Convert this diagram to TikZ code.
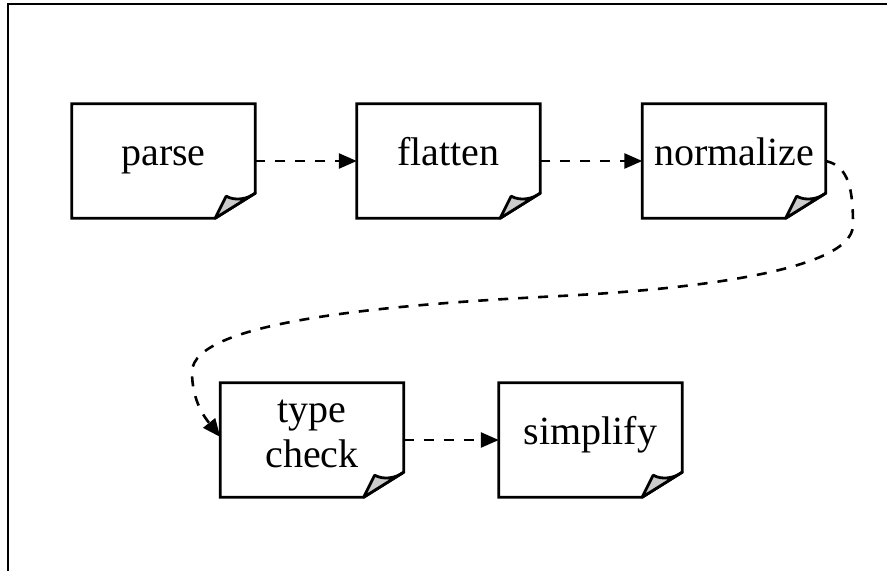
\documentclass[tikz,border=0pt]{standalone}
\usepackage{fontspec}
\setmainfont{Liberation Serif}
\usetikzlibrary{arrows.meta,calc}
\begin{document}
\begin{tikzpicture}[x=1pt,y=-1pt,
  doc/.style={minimum width=183pt, minimum height=114pt, inner sep=0pt, align=center,
    font=\fontsize{40}{45}\selectfont, text height=26pt, text depth=17pt},
  docline/.style={line width=2.8pt, line join=miter},
  flap/.style={fill=gray!40, line width=2.8pt, line join=round},
  conn/.style={line width=2.6pt, dash pattern=on 10pt off 10pt, -{Triangle[length=18pt,width=15pt]}}
]
\useasboundingbox (0,0) rectangle (887,571);
\draw[line width=2.5pt] (8,571) -- (8,4) -- (887,4);

\node[doc] (parse) at (163.5,161) {parse};
\node[doc] (flatten) at (448.5,161) {flatten};
\node[doc] (normalize) at (734,161) {normalize};
\node[doc, text height=71pt, text depth=17pt] (tc) at (312,440) {type\\check};
\node[doc] (simplify) at (590.5,440) {simplify};

\foreach \n in {parse,flatten,normalize,tc,simplify}{
  \draw[docline] (\n.north west) -- (\n.north east) -- ($(\n.south east)+(0,-25)$)
     -- ($(\n.south east)+(-40,0)$) -- (\n.south west) -- cycle;
  \draw[flap] ($(\n.south east)+(-40,0)$) -- ($(\n.south east)+(-29,-22)$)
     .. controls ($(\n.south east)+(-20,-17)$) and ($(\n.south east)+(-8,-19)$) .. ($(\n.south east)+(0,-25)$) -- cycle;
}

\draw[conn] (parse) -- (flatten);
\draw[conn] (flatten) -- (normalize);
\draw[conn] (tc) -- (simplify);
\draw[conn] (normalize.east) .. controls (849,166) and (853,190) .. (853,225)
  .. controls (853,275) and (660,291) .. (560,296)
  .. controls (400,304) and (192,320) .. (192,372)
  .. controls (192,402) and (206,419) .. ($(tc.west)+(0,-3)$);
\end{tikzpicture}
\end{document}
